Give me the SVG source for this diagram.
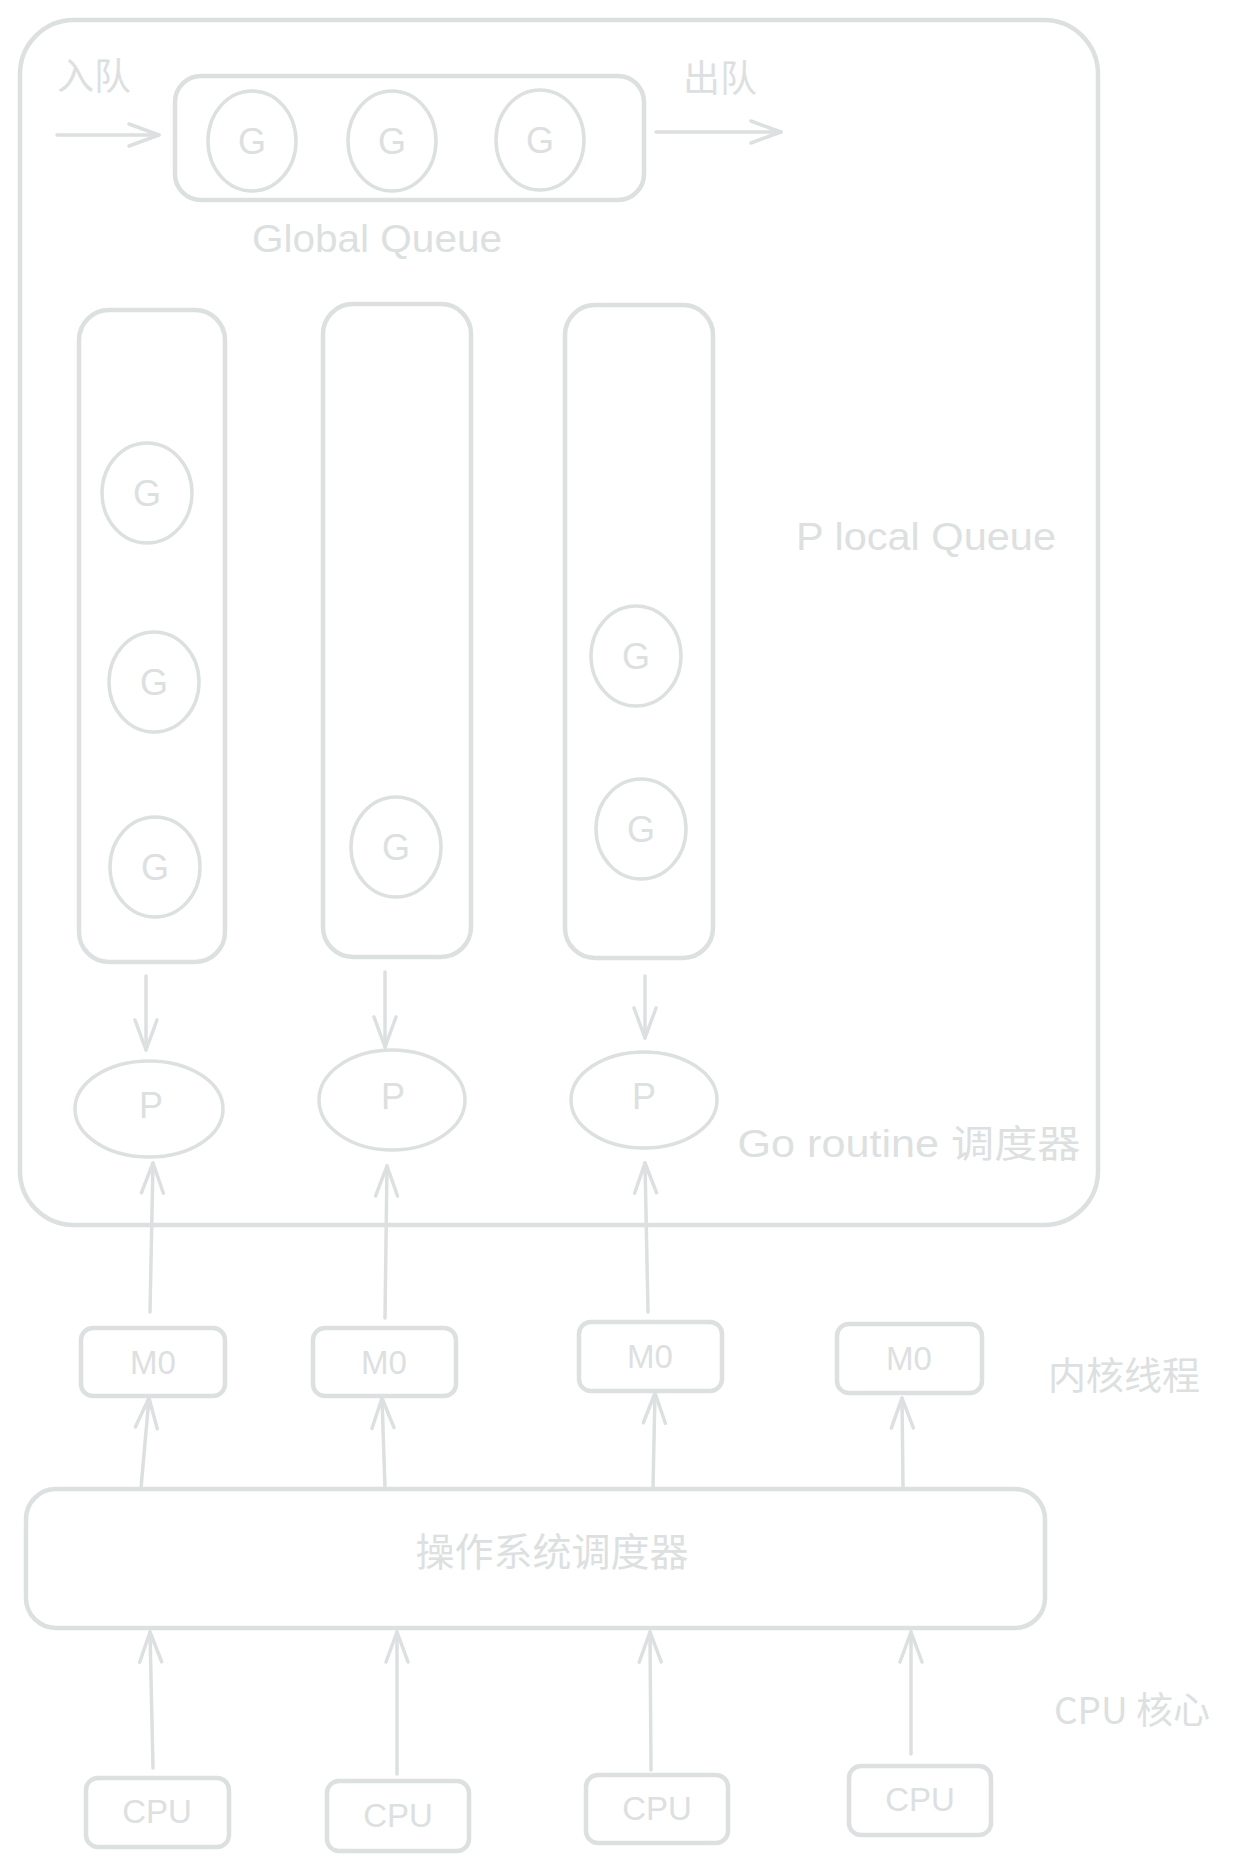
<svg xmlns="http://www.w3.org/2000/svg" width="1243" height="1871" viewBox="0 0 1243 1871">
<style>
.s{fill:none;stroke:#dde0e0;stroke-width:3.5;stroke-linecap:round;stroke-linejoin:round}
.b{fill:none;stroke:#dde0e0;stroke-width:4.5}
.t{fill:#dde0e0;font-family:"Liberation Sans","Noto Sans CJK SC",sans-serif;text-anchor:middle;dominant-baseline:central}
.c{fill:#dde0e0;font-family:"Noto Sans CJK SC","Liberation Sans",sans-serif;text-anchor:middle;dominant-baseline:central}
.g{fill:#dde0e0;font-family:"Liberation Sans",sans-serif;text-anchor:middle;dominant-baseline:central;font-size:36px}
.a{fill:none;stroke:#dde0e0;stroke-width:3.5;stroke-linecap:round}
</style>
<defs>
<marker id="ah" markerUnits="userSpaceOnUse" markerWidth="40" markerHeight="40" viewBox="-35 -20 40 40" refX="0" refY="0" orient="auto">
<path d="M-30,-11 L0,0 L-30,11" fill="none" stroke="#dde0e0" stroke-width="3.5" stroke-linecap="round" stroke-linejoin="round"/>
</marker>
</defs>
<rect width="1243" height="1871" fill="#ffffff"/>

<g id="goscheduler">
<rect x="20" y="20" width="1078" height="1205" rx="54" class="b"/>
<text x="909" y="1144" class="t" font-size="38" textLength="343" lengthAdjust="spacingAndGlyphs">Go routine 调度器</text>
</g>

<g id="labels">
<text x="94" y="74" class="c" font-size="37">入队</text>
<text x="720" y="76" class="c" font-size="37">出队</text>
<text x="377" y="239" class="t" font-size="38" textLength="250" lengthAdjust="spacingAndGlyphs">Global Queue</text>
<text x="926" y="537" class="t" font-size="38" textLength="260" lengthAdjust="spacingAndGlyphs">P local Queue</text>
<text x="1124" y="1372" class="c" font-size="38">内核线程</text>
<text x="1132" y="1708" class="c" font-size="37">CPU 核心</text>
</g>

<g id="globalqueue">
<rect x="175" y="76" width="469" height="124" rx="26" class="b"/>
<ellipse cx="252" cy="141" rx="44" ry="50" class="s"/><text x="252" y="141" class="g">G</text>
<ellipse cx="392" cy="141" rx="44" ry="50" class="s"/><text x="392" y="141" class="g">G</text>
<ellipse cx="540" cy="140" rx="44" ry="50" class="s"/><text x="540" y="140" class="g">G</text>
</g>

<g id="plq1">
<rect x="79" y="310" width="146" height="652" rx="30" class="b"/>
<ellipse cx="147" cy="493" rx="45" ry="50" class="s"/><text x="147" y="493" class="g">G</text>
<ellipse cx="154" cy="682" rx="45" ry="50" class="s"/><text x="154" y="682" class="g">G</text>
<ellipse cx="155" cy="867" rx="45" ry="50" class="s"/><text x="155" y="867" class="g">G</text>
</g>
<g id="plq2">
<rect x="323" y="304" width="148" height="653" rx="30" class="b"/>
<ellipse cx="396" cy="847" rx="45" ry="50" class="s"/><text x="396" y="847" class="g">G</text>
</g>
<g id="plq3">
<rect x="565" y="305" width="148" height="653" rx="30" class="b"/>
<ellipse cx="636" cy="656" rx="45" ry="50" class="s"/><text x="636" y="656" class="g">G</text>
<ellipse cx="641" cy="829" rx="45" ry="50" class="s"/><text x="641" y="829" class="g">G</text>
</g>

<g id="p1"><ellipse cx="149" cy="1109" rx="74" ry="48" class="s"/><text x="151" y="1105" class="g">P</text></g>
<g id="p2"><ellipse cx="392" cy="1100" rx="73" ry="50" class="s"/><text x="393" y="1096" class="g">P</text></g>
<g id="p3"><ellipse cx="644" cy="1100" rx="73" ry="48" class="s"/><text x="644" y="1096" class="g">P</text></g>

<g id="m1"><rect x="81" y="1328" width="144" height="68" rx="12" class="b"/><text x="153" y="1362" class="t" font-size="33">M0</text></g>
<g id="m2"><rect x="313" y="1328" width="143" height="68" rx="12" class="b"/><text x="384" y="1362" class="t" font-size="33">M0</text></g>
<g id="m3"><rect x="579" y="1322" width="143" height="69" rx="12" class="b"/><text x="650" y="1356" class="t" font-size="33">M0</text></g>
<g id="m4"><rect x="837" y="1324" width="145" height="69" rx="12" class="b"/><text x="909" y="1358" class="t" font-size="33">M0</text></g>

<g id="os"><rect x="26" y="1489" width="1019" height="139" rx="30" class="b"/><text x="552" y="1549" class="c" font-size="39">操作系统调度器</text></g>

<g id="cpu1"><rect x="86" y="1778" width="143" height="69" rx="12" class="b"/><text x="157" y="1811" class="t" font-size="33">CPU</text></g>
<g id="cpu2"><rect x="327" y="1781" width="142" height="70" rx="12" class="b"/><text x="398" y="1815" class="t" font-size="33">CPU</text></g>
<g id="cpu3"><rect x="586" y="1775" width="142" height="68" rx="12" class="b"/><text x="657" y="1808" class="t" font-size="33">CPU</text></g>
<g id="cpu4"><rect x="849" y="1766" width="142" height="69" rx="12" class="b"/><text x="920" y="1799" class="t" font-size="33">CPU</text></g>

<g id="connectors">
<line x1="57" y1="135" x2="159" y2="135" class="a" marker-end="url(#ah)"/>
<line x1="656" y1="132" x2="781" y2="132" class="a" marker-end="url(#ah)"/>
<line x1="146" y1="976" x2="146" y2="1050" class="a" marker-end="url(#ah)"/>
<line x1="385" y1="972" x2="385" y2="1047" class="a" marker-end="url(#ah)"/>
<line x1="645" y1="976" x2="645" y2="1038" class="a" marker-end="url(#ah)"/>
<line x1="150" y1="1312" x2="153" y2="1163" class="a" marker-end="url(#ah)"/>
<line x1="385" y1="1318" x2="387" y2="1166" class="a" marker-end="url(#ah)"/>
<line x1="648" y1="1312" x2="645" y2="1163" class="a" marker-end="url(#ah)"/>
<line x1="141" y1="1488" x2="149" y2="1398" class="a" marker-end="url(#ah)"/>
<line x1="385" y1="1488" x2="382" y2="1398" class="a" marker-end="url(#ah)"/>
<line x1="653" y1="1488" x2="655" y2="1393" class="a" marker-end="url(#ah)"/>
<line x1="903" y1="1488" x2="902" y2="1398" class="a" marker-end="url(#ah)"/>
<line x1="153" y1="1768" x2="150" y2="1632" class="a" marker-end="url(#ah)"/>
<line x1="397" y1="1774" x2="397" y2="1632" class="a" marker-end="url(#ah)"/>
<line x1="651" y1="1770" x2="650" y2="1632" class="a" marker-end="url(#ah)"/>
<line x1="911" y1="1754" x2="911" y2="1632" class="a" marker-end="url(#ah)"/>
</g>
</svg>
